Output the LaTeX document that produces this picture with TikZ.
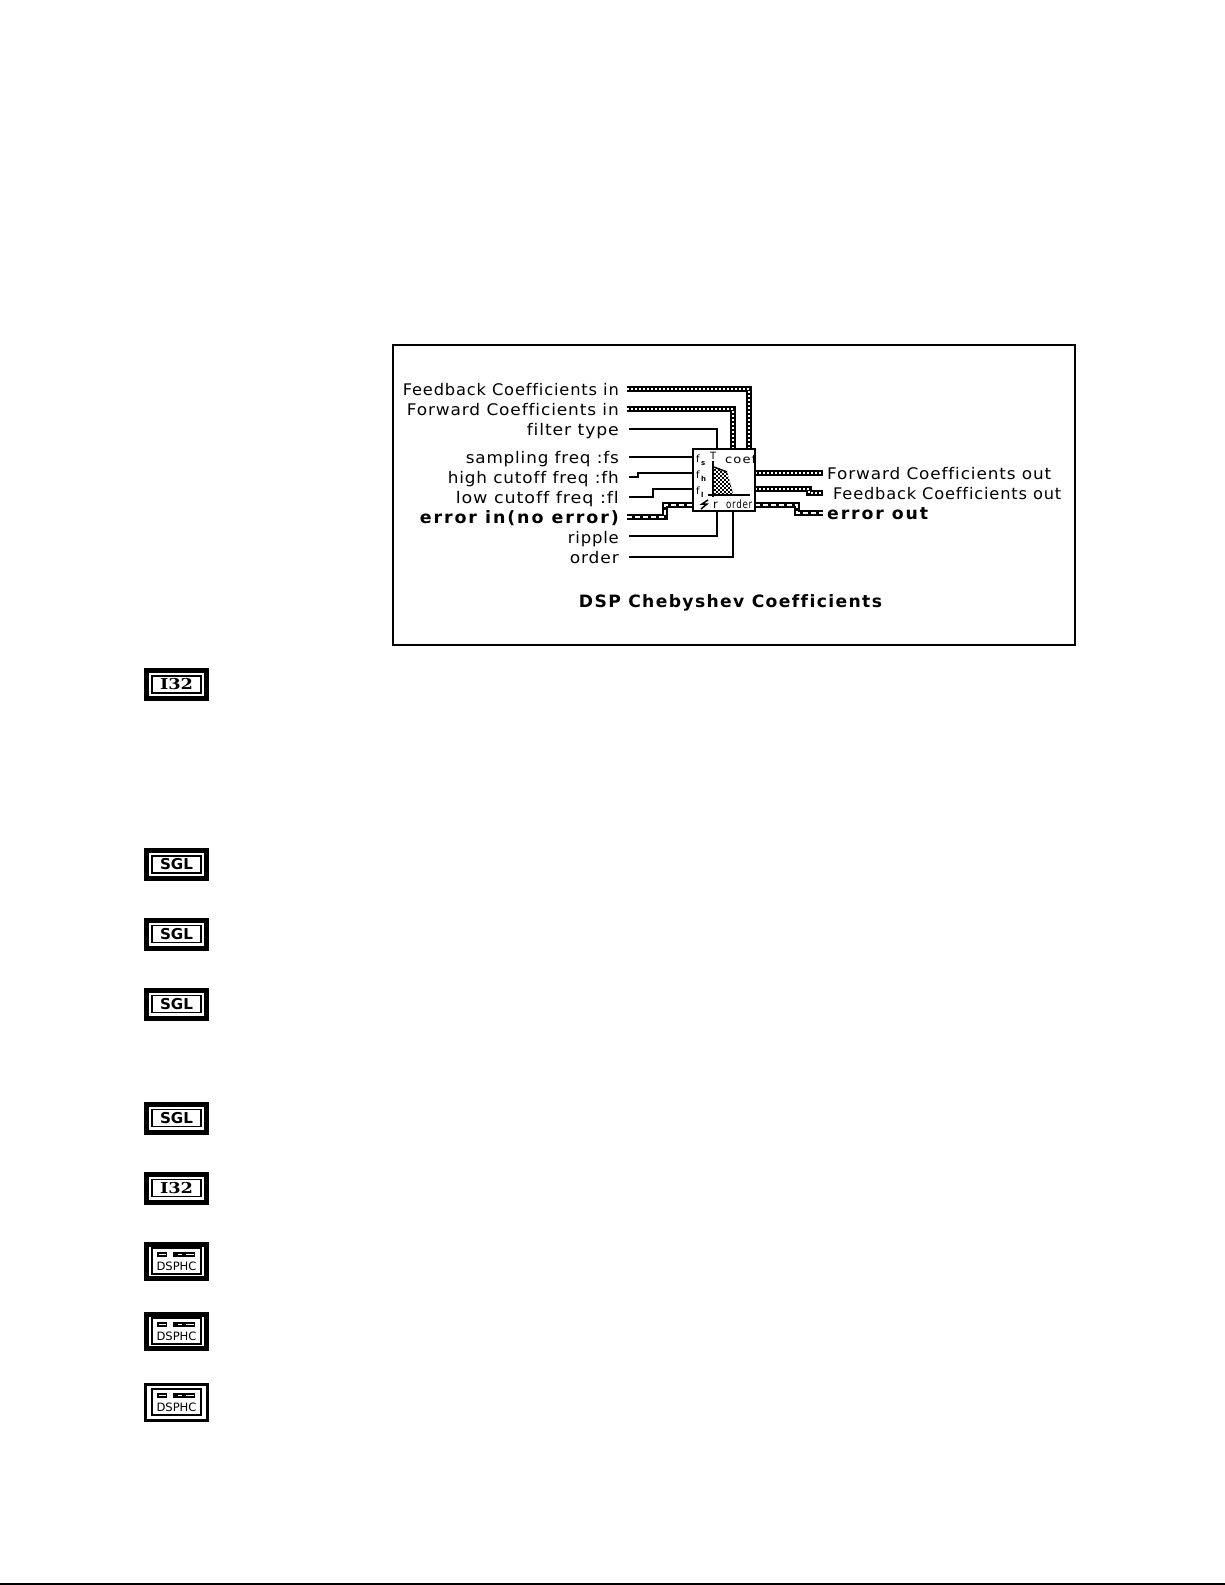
\documentclass[tikz,border=0pt]{standalone}
\usepackage{fontspec}
\usepackage{graphicx}
\setmainfont{DejaVu Sans}[Ligatures={NoCommon},LetterSpace=5.2]
\newfontfamily\slabfont{DejaVu Serif Bold}
\newfontfamily\iconfont{DejaVu Sans Bold}
\newfontfamily\tinyfont{DejaVu Sans}[LetterSpace=8]
\newfontfamily\plainfont{DejaVu Sans}
\newfontfamily\boldfontA{DejaVu Sans Bold}[Ligatures={NoCommon},LetterSpace=11]
\newfontfamily\boldfontB{DejaVu Sans Bold}[Ligatures={NoCommon},LetterSpace=8]
\newcommand{\fitw}[2]{\resizebox{#1pt}{\height}{#2}}
\tikzset{
  x=1pt,y=-1pt,
  lab/.style={inner sep=0pt,font=\fontsize{16}{16}\selectfont},
  blab/.style={inner sep=0pt,font=\fontsize{17}{17}\boldfontA},
  tlab/.style={inner sep=0pt,font=\fontsize{17}{17}\boldfontB},
  thin wire/.style={line width=2pt,black},
  frame/.style={draw=black,line width=2pt},
  vibox/.style={draw=black,fill=white,line width=2pt,minimum width=62pt,minimum height=62pt,inner sep=0pt},
  micro/.style={inner sep=0pt,font=\fontsize{10}{10}\tinyfont},
  microb/.style={inner sep=0pt,font=\fontsize{11.5}{11.5}\tinyfont},
  microc/.style={inner sep=0pt,font=\fontsize{7}{7}\iconfont},
}
\newcommand{\dblwire}[1]{%
  \draw[black,line width=6pt,line join=miter] #1;
  \draw[white,line width=2pt,dash pattern=on 2pt off 2pt] #1;}
\newcommand{\errwire}[1]{%
  \draw[black,line width=6pt,line join=miter] #1;
  \draw[white,line width=2pt,dash pattern=on 5pt off 3pt] #1;}
\newcommand{\termicon}[5]{% name, y-centre, height, font, text
  \node[draw=black,line width=5pt,minimum width=60pt,minimum height=#3pt-5pt,inner sep=0pt] (#1) at (176.5,#2) {};
  \node[draw=black,line width=1.7pt,minimum width=49.5pt,minimum height=17pt,inner sep=0pt] (#1in) at (176.5,#2) {};
  \node[inner sep=0pt,font=\fontsize{15}{15}#4] at (176.5,#2) {\fitw{33}{#5}};}
\newcommand{\dsphc}[3]{% name, y-centre, outer line width
  \node[draw=black,line width=#3pt,minimum width=65pt-#3pt,minimum height=39pt-#3pt,inner sep=0pt] (#1) at (176.5,#2) {};
  \node[draw=black,line width=1.7pt,minimum width=49.5pt,minimum height=25.5pt,inner sep=0pt] (#1in) at (176.5,#2) {};
  \node[inner sep=0pt,font=\fontsize{11.5}{11.5}\plainfont] at (176.5,#2+5.5) {\fitw{40}{DSPHC}};
  \draw[black,line width=1.2pt] (158,#2-8) rectangle (166.5,#2-5);
  \draw[black,line width=1.2pt] (173.5,#2-8) rectangle (183,#2-5);
  \draw[black,line width=1.2pt] (185,#2-8) rectangle (194.5,#2-5);
  \fill[black] (173.5,#2-8) rectangle (178,#2-5);}
\begin{document}
\begin{tikzpicture}
\useasboundingbox (0,0) rectangle (1225,1585);
\fill[white] (0,0) rectangle (1225,1585);
% bottom rule
\coordinate (ruleL) at (0,1584);
\coordinate (ruleR) at (1225,1584);
\draw[line width=2pt] (ruleL) -- (ruleR);
% frame
\node[frame,minimum width=682pt,minimum height=300pt,inner sep=0pt] (panel) at (734,495) {};
% labels, left
\node[lab,anchor=base east] (fbin) at (619,395) {\fitw{216}{Feedback Coefficients in}};
\node[lab,anchor=base east] (fwin) at (619,415) {\fitw{212}{Forward Coefficients in}};
\node[lab,anchor=base east] (ftype) at (619,435) {\fitw{92}{filter type}};
\node[lab,anchor=base east] (fs) at (619,463) {\fitw{153}{sampling freq :fs}};
\node[lab,anchor=base east] (fh) at (619,483) {\fitw{171}{high cutoff freq :fh}};
\node[lab,anchor=base east] (fl) at (619,503) {\fitw{163}{low cutoff freq :fl}};
\node[blab,anchor=base east] (errin) at (619,523) {\fitw{199}{error in(no error)}};
\node[lab,anchor=base east] (rip) at (619,543) {\fitw{51}{ripple}};
\node[lab,anchor=base east] (ord) at (619,563) {\fitw{49}{order}};
% labels, right
\node[lab,anchor=base west] (fwout) at (827,479) {\fitw{224}{Forward Coefficients out}};
\node[lab,anchor=base west] (fbout) at (833,499) {\fitw{228}{Feedback Coefficients out}};
\node[blab,anchor=base west] (errout) at (827,519) {\fitw{101}{error out}};
\node[tlab,anchor=base] (title) at (730.5,607) {\fitw{303}{DSP Chebyshev Coefficients}};
% wires
\dblwire{(627,389) -- (749,389) -- (749,449)}
\dblwire{(627,409) -- (733,409) -- (733,449)}
\draw[thin wire] (629,429) -- (717,429) -- (717,449);
\draw[thin wire] (629,457) -- (693,457);
\draw[thin wire] (629,477) -- (638,477) -- (638,473) -- (693,473);
\draw[thin wire] (629,497) -- (653,497) -- (653,489) -- (693,489);
\errwire{(627,517) -- (665,517) -- (665,505) -- (693,505)}
\draw[thin wire] (629,536) -- (717,536) -- (717,511);
\draw[thin wire] (629,557) -- (733,557) -- (733,511);
\dblwire{(755,473) -- (823,473)}
\dblwire{(755,489) -- (809,489) -- (809,493) -- (823,493)}
\errwire{(755,505) -- (797,505) -- (797,513) -- (823,513)}
% VI icon
\node[vibox] (box) at (724,480) {};
\begin{scope}
\clip (694,450) rectangle (754,510);
\begin{scope}
\clip (714,467) -- (727,472) -- (730,482) -- (733,494) -- (714,494) -- cycle;
\fill[black] (714,467) rectangle (734,494);
\foreach \i in {0,...,9}{\foreach \j in {0,...,13}{
  \pgfmathparse{int(mod(\i+\j,2))}
  \ifnum\pgfmathresult=0 \fill[white] (714+2*\i,467+2*\j) rectangle ++(2,2);\fi
}}
\end{scope}
\draw[line width=2pt] (713,461) -- (713,497);
\draw[line width=2pt] (708,495) -- (750,495);
\draw[line width=1.5pt] (714,467) -- (727,472);
\node[microb,anchor=base west] (cf) at (725,463) {\fitw{31}{coef}};
\node[micro,anchor=base west] (tt) at (710,459) {T};
\node[micro,anchor=base west] (ffs) at (696,462) {f};
\node[microc,anchor=base west] (sfs) at (701,465) {s};
\node[micro,anchor=base west] (ffh) at (696,478) {f};
\node[microc,anchor=base west] (sfh) at (701,481) {h};
\node[micro,anchor=base west] (ffl) at (696,494) {f};
\node[microc,anchor=base west] (sfl) at (701,497) {l};
\node[microb,anchor=base west] (rr) at (713,508) {r};
\node[microb,anchor=base west] (oo) at (726,508) {\fitw{26}{order}};
\end{scope}
\draw[line width=1.5pt] (708,500) -- (702,504) -- (707,504) -- (701,509);
% terminals
\termicon{a}{684.5}{33}{\slabfont}{I32}
\termicon{b}{864.5}{33}{\iconfont}{SGL}
\termicon{c}{934}{33}{\iconfont}{SGL}
\termicon{d}{1004}{33}{\iconfont}{SGL}
\termicon{e}{1118}{33}{\iconfont}{SGL}
\termicon{f}{1188}{33}{\slabfont}{I32}
\dsphc{g}{1261}{5}
\dsphc{h}{1331}{5}
\dsphc{k}{1402}{3}
\end{tikzpicture}
\end{document}
